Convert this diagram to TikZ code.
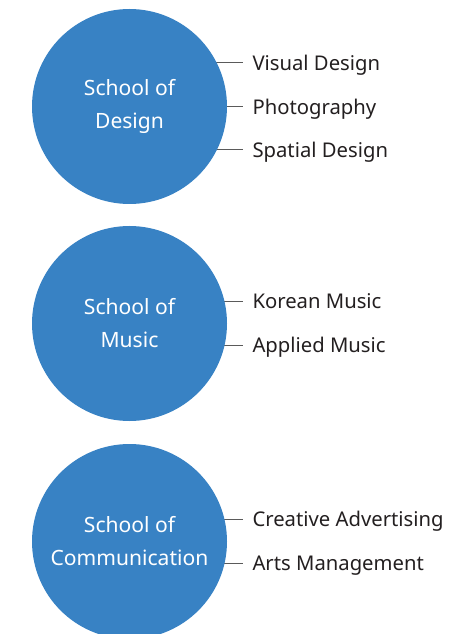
\documentclass[tikz,border=0pt]{standalone}
\usepackage{fontspec}
\setmainfont{Noto Sans}
\usetikzlibrary{backgrounds}
\definecolor{schoolblue}{RGB}{56,130,196}
\definecolor{labgray}{RGB}{35,31,32}
\definecolor{linegray}{RGB}{90,90,90}
\tikzset{every picture/.style={line width=0.75pt}}

\begin{document}
\begin{tikzpicture}[x=0.75pt,y=0.75pt,yscale=-1,xscale=1,
	school/.style={circle,fill=schoolblue,minimum size=146.25pt,inner sep=0pt,text=white,align=center,font=\fontsize{15.8}{24.7}\selectfont},
	major/.style={anchor=west,inner sep=0pt,text height=10.9pt,text depth=0pt,text=labgray,font=\fontsize{15.2}{18}\selectfont},
	tie/.style={draw=linegray,line width=0.75pt}]
	\useasboundingbox (0,0) rectangle (452,634);

	%Circles
	\node[school] (design) at (129.5,106.5) {School of\\Design};
	\node[school] (music) at (129.5,323.5) {School of\\Music};
	\node[school] (comm) at (129.5,541.5) {School of\\Communication};

	% Text Node
	\node[major] (visual) at (252,63) {Visual Design};
	\node[major] (photo) at (252,107) {Photography};
	\node[major] (spatial) at (252,150) {Spatial Design};
	\node[major] (korean) at (252,301) {Korean Music};
	\node[major] (applied) at (252,345) {Applied Music};
	\node[major] (advert) at (252,519) {Creative Advertising};
	\node[major] (arts) at (252,563) {Arts Management};

	%Straight Lines
	\begin{scope}[on background layer]
	\foreach \lab/\sch in {visual/design,photo/design,spatial/design,korean/music,applied/music,advert/comm,arts/comm}
		\draw[tie,shorten <=7pt] (\lab.west) -- (\lab.west -| \sch.center);
	\end{scope}

\end{tikzpicture}
\end{document}
